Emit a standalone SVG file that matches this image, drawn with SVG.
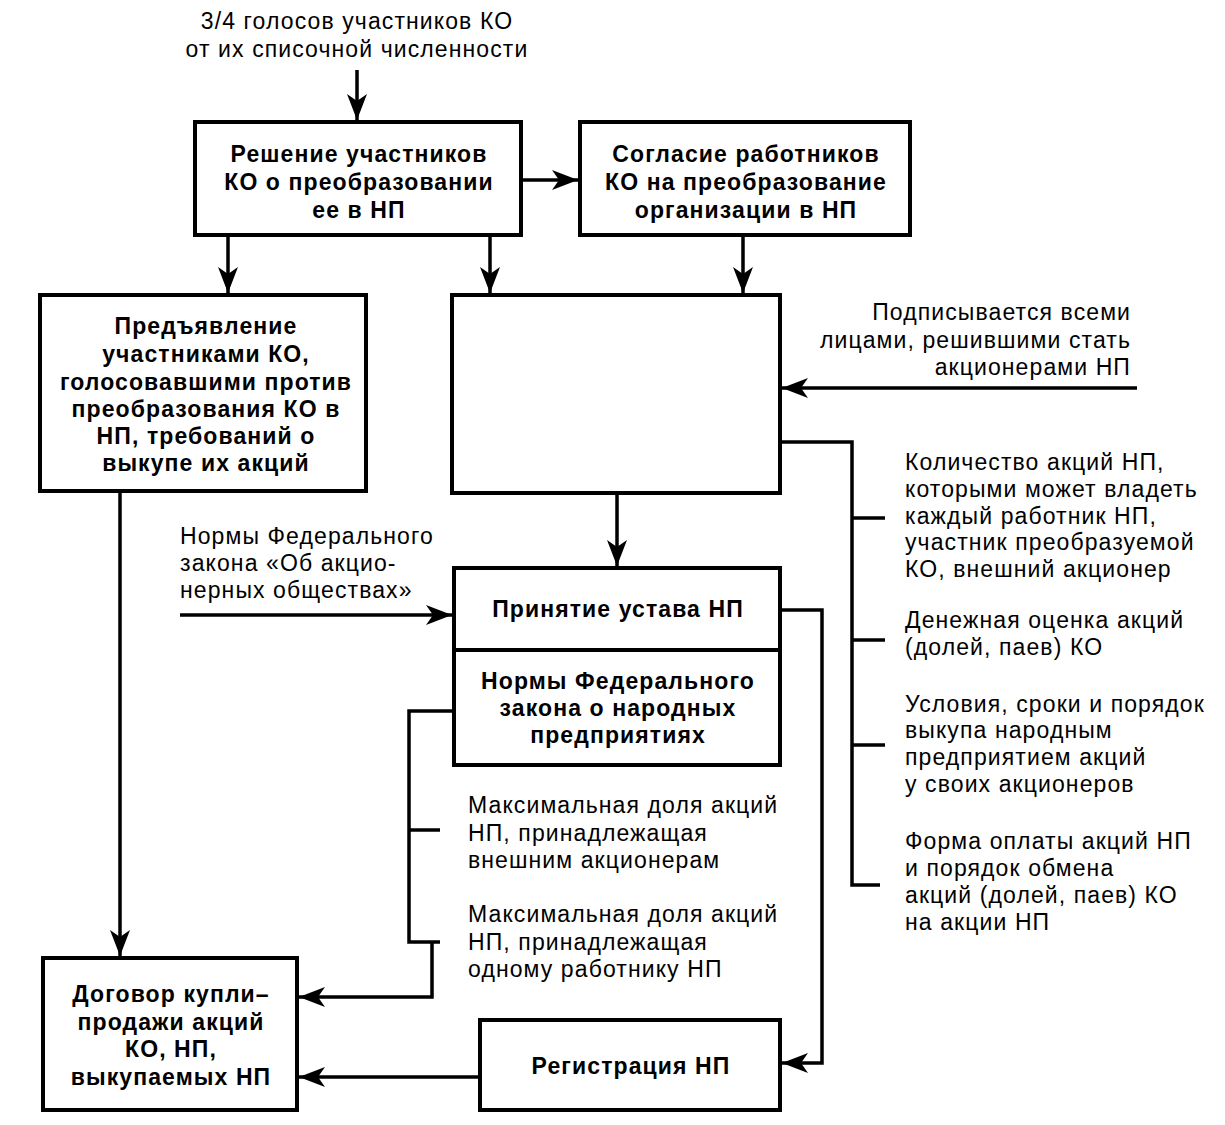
<svg xmlns="http://www.w3.org/2000/svg" width="1225" height="1125" viewBox="0 0 1225 1125">
<style>
.box{fill:#fff;stroke:#000;stroke-width:4}
.ln{fill:none;stroke:#000;stroke-width:3.5}
.b{font-family:"Liberation Sans",Arial,sans-serif;font-weight:bold;font-size:23px;letter-spacing:1.1px;text-anchor:middle;fill:#000}
.t{font-family:"Liberation Sans",Arial,sans-serif;font-size:23px;letter-spacing:1.1px;fill:#000}
.m{text-anchor:middle}
.e{text-anchor:end}
</style>
<defs>
<marker id="ah" markerUnits="userSpaceOnUse" markerWidth="28" markerHeight="20" refX="26" refY="10" orient="auto">
<path d="M0,0 L26,10 L0,20 L7,10 Z" fill="#000"/>
</marker>
</defs>
<rect width="1225" height="1125" fill="#fff"/>
<g id="connectors">
<path class="ln" d="M357,70 V120" marker-end="url(#ah)"/>
<path class="ln" d="M521,180 H578" marker-end="url(#ah)"/>
<path class="ln" d="M228,235 V293" marker-end="url(#ah)"/>
<path class="ln" d="M490,235 V293" marker-end="url(#ah)"/>
<path class="ln" d="M743,235 V293" marker-end="url(#ah)"/>
<path class="ln" d="M1137,388 H782" marker-end="url(#ah)"/>
<path class="ln" d="M780,442 H852 V885 H880"/>
<path class="ln" d="M852,518 H885"/>
<path class="ln" d="M852,640 H885"/>
<path class="ln" d="M852,745 H885"/>
<path class="ln" d="M617,493 V566" marker-end="url(#ah)"/>
<path class="ln" d="M180,615 H452" marker-end="url(#ah)"/>
<path class="ln" d="M780,610 H822 V1063 H782" marker-end="url(#ah)"/>
<path class="ln" d="M454,711 H409 V942 H440"/>
<path class="ln" d="M409,830 H440"/>
<path class="ln" d="M432,942 V997 H299" marker-end="url(#ah)"/>
<path class="ln" d="M120,491 V956" marker-end="url(#ah)"/>
<path class="ln" d="M480,1077 H299" marker-end="url(#ah)"/>
</g>
<g id="label-top">
<text class="t m" x="357" y="29">3/4 голосов участников КО</text>
<text class="t m" x="357" y="57">от их списочной численности</text>
</g>
<g id="node-reshenie">
<rect class="box" x="195" y="122" width="326" height="113"/>
<text class="b" x="359" y="162">Решение участников</text>
<text class="b" x="359" y="190">КО о преобразовании</text>
<text class="b" x="359" y="218">ее в НП</text>
</g>
<g id="node-soglasie">
<rect class="box" x="580" y="122" width="330" height="113"/>
<text class="b" x="746" y="162">Согласие работников</text>
<text class="b" x="746" y="190">КО на преобразование</text>
<text class="b" x="746" y="218">организации в НП</text>
</g>
<g id="node-predyavlenie">
<rect class="box" x="40" y="295" width="326" height="196"/>
<text class="b" x="206" y="334">Предъявление</text>
<text class="b" x="206" y="362">участниками КО,</text>
<text class="b" x="206" y="390">голосовавшими против</text>
<text class="b" x="206" y="417">преобразования КО в</text>
<text class="b" x="206" y="444">НП, требований о</text>
<text class="b" x="206" y="471">выкупе их акций</text>
</g>
<g id="node-empty">
<rect class="box" x="452" y="295" width="328" height="198"/>
</g>
<g id="label-podpis">
<text class="t e" x="1131" y="320">Подписывается всеми</text>
<text class="t e" x="1131" y="348">лицами, решившими стать</text>
<text class="t e" x="1131" y="375">акционерами НП</text>
</g>
<g id="label-kolichestvo">
<text class="t" x="905" y="470">Количество акций НП,</text>
<text class="t" x="905" y="497">которыми может владеть</text>
<text class="t" x="905" y="524">каждый работник НП,</text>
<text class="t" x="905" y="550">участник преобразуемой</text>
<text class="t" x="905" y="577">КО, внешний акционер</text>
</g>
<g id="label-denezhnaya">
<text class="t" x="905" y="628">Денежная оценка акций</text>
<text class="t" x="905" y="655">(долей, паев) КО</text>
</g>
<g id="label-usloviya">
<text class="t" x="905" y="712">Условия, сроки и порядок</text>
<text class="t" x="905" y="738">выкупа народным</text>
<text class="t" x="905" y="765">предприятием акций</text>
<text class="t" x="905" y="792">у своих акционеров</text>
</g>
<g id="label-forma">
<text class="t" x="905" y="849">Форма оплаты акций НП</text>
<text class="t" x="905" y="876">и порядок обмена</text>
<text class="t" x="905" y="903">акций (долей, паев) КО</text>
<text class="t" x="905" y="930">на акции НП</text>
</g>
<g id="label-normy-ao">
<text class="t" x="180" y="544">Нормы Федерального</text>
<text class="t" x="180" y="571">закона «Об акцио-</text>
<text class="t" x="180" y="598">нерных обществах»</text>
</g>
<g id="node-ustav">
<rect class="box" x="454" y="568" width="326" height="197"/>
<line x1="454" y1="650" x2="780" y2="650" stroke="#000" stroke-width="4"/>
<text class="b" x="618" y="617">Принятие устава НП</text>
<text class="b" x="618" y="689">Нормы Федерального</text>
<text class="b" x="618" y="716">закона о народных</text>
<text class="b" x="618" y="743">предприятиях</text>
</g>
<g id="label-maxdolya1">
<text class="t" x="468" y="813">Максимальная доля акций</text>
<text class="t" x="468" y="841">НП, принадлежащая</text>
<text class="t" x="468" y="868">внешним акционерам</text>
</g>
<g id="label-maxdolya2">
<text class="t" x="468" y="922">Максимальная доля акций</text>
<text class="t" x="468" y="950">НП, принадлежащая</text>
<text class="t" x="468" y="977">одному работнику НП</text>
</g>
<g id="node-dogovor">
<rect class="box" x="43" y="958" width="254" height="152"/>
<text class="b" x="171" y="1002">Договор купли–</text>
<text class="b" x="171" y="1030">продажи акций</text>
<text class="b" x="171" y="1057">КО, НП,</text>
<text class="b" x="171" y="1085">выкупаемых НП</text>
</g>
<g id="node-registraciya">
<rect class="box" x="480" y="1020" width="300" height="90"/>
<text class="b" x="631" y="1074">Регистрация НП</text>
</g>
</svg>
